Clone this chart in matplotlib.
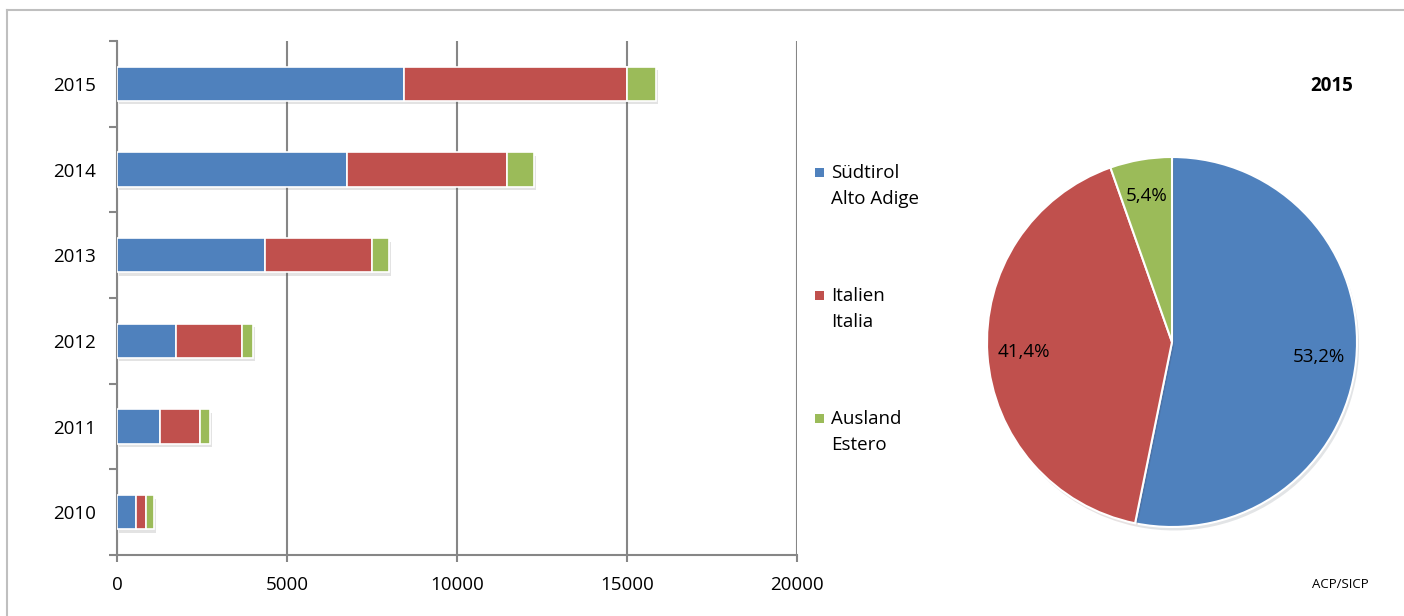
import numpy as np
import matplotlib
matplotlib.use('Agg')
import matplotlib.pyplot as plt
import matplotlib.patheffects as pe
from matplotlib.patches import Rectangle
from matplotlib.lines import Line2D

# data
years = ['2010', '2011', '2012', '2013', '2014', '2015']
suedtirol = [549, 1265, 1735, 4353, 6765, 8432]
italien = [294, 1176, 1933, 3147, 4705, 6562]
ausland = [245, 294, 342, 500, 795, 856]
labels = ['Südtirol\nAlto Adige', 'Italien\nItalia', 'Ausland\nEstero']
colors = ['#4F81BD', '#C0504D', '#9BBB59']
xticks = [0, 5000, 10000, 15000, 20000]

plt.rcParams['font.family'] = ['Open Sans', 'DejaVu Sans']
W, H = 1404, 616
fig = plt.figure(figsize=(W / 100, H / 100), dpi=100)

def fx(px):
    return px / W

def fy(py):
    return 1 - py / H

# outer border (only top and left visible)
fig.add_artist(Line2D([fx(7), fx(7)], [fy(10), 0], transform=fig.transFigure, color='#bfbfbf', lw=1.5))
fig.add_artist(Line2D([fx(7), 1], [fy(10), fy(10)], transform=fig.transFigure, color='#bfbfbf', lw=1.5))

# stacked bars
ax = fig.add_axes([fx(117), fy(555), fx(797) - fx(117), fy(41) - fy(555)])
y = np.arange(len(years))
shadow = [pe.SimplePatchShadow(offset=(1.5, -2.5), alpha=0.15, shadow_rgbFace='#444444'), pe.Normal()]
left = np.zeros(len(years))
for vals, c in zip([suedtirol, italien, ausland], colors):
    bars = ax.barh(y, vals, left=left, height=0.4, color=c, edgecolor='white', linewidth=1.2, zorder=3)
    for b in bars:
        b.set_path_effects(shadow)
    left = left + np.array(vals)

grid_c = '#868686'
ax.set_xlim(0, 20000)
ax.set_ylim(-0.5, len(years) - 0.5)
ax.set_xticks(xticks)
ax.set_xticklabels([str(t) for t in xticks], fontsize=13.5)
ax.set_yticks(np.arange(-0.5, len(years), 1.0))
ax.set_yticklabels([])
ax.set_yticks(y, minor=True)
ax.set_yticklabels(years, minor=True, fontsize=13.5)
ax.tick_params(axis='y', which='major', length=6, width=1.5, color=grid_c)
ax.tick_params(axis='y', which='minor', length=0, pad=15)
ax.tick_params(axis='x', length=5, width=1.5, color=grid_c, pad=10)
ax.xaxis.grid(True, color=grid_c, lw=1.5, zorder=0)
ax.set_axisbelow(True)
for s in ['top', 'right']:
    ax.spines[s].set_visible(False)
for s in ['left', 'bottom']:
    ax.spines[s].set_color(grid_c)
    ax.spines[s].set_linewidth(1.5)

# legend
legend_y = [172, 295, 418]
for lab, c, ly in zip(labels, colors, legend_y):
    fig.add_artist(Rectangle((fx(815), fy(ly + 5)), fx(9), 9 / H, transform=fig.transFigure,
                             facecolor=c, edgecolor='none'))
    fig.text(fx(831), fy(ly - 8), lab, fontsize=13.5, va='top', ha='left', linespacing=1.55)

# pie for 2015
pie_vals = [suedtirol[-1], italien[-1], ausland[-1]]
cx, cy, r = 1172, 342, 185
pax = fig.add_axes([fx(cx - r), fy(cy + r), 2 * r / W, 2 * r / H])
wedges, texts, autotexts = pax.pie(
    pie_vals, colors=colors, startangle=90, counterclock=False,
    autopct=lambda p: ('%.1f%%' % p).replace('.', ','), pctdistance=0.8,
    wedgeprops=dict(edgecolor='white', linewidth=1.5),
    textprops=dict(fontsize=13.5, color='black'))
for w in wedges:
    w.set_path_effects([pe.SimplePatchShadow(offset=(1.5, -2.5), alpha=0.12), pe.Normal()])
pax.set_xlim(-1, 1)
pax.set_ylim(-1, 1)
pax.set_aspect('equal')

fig.text(fx(1332), fy(86), years[-1], fontsize=13.5, fontweight='bold', ha='center', va='center')
fig.text(fx(1340), fy(585), 'ACP/SICP', fontsize=9.5, ha='center', va='center')

fig.savefig('out.png', dpi=100)
